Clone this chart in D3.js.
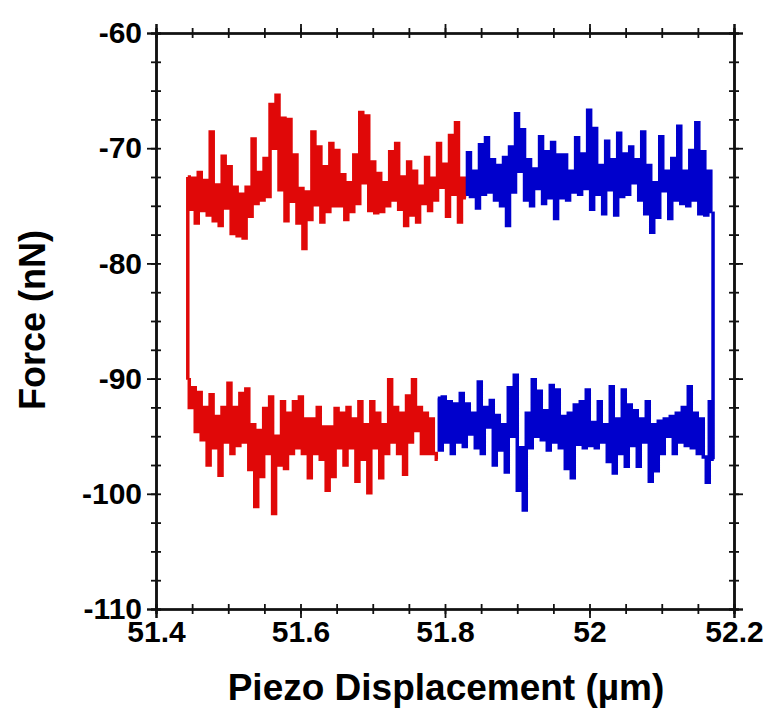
<!DOCTYPE html>
<html>
<head>
<meta charset="utf-8">
<script src="https://cdn.jsdelivr.net/npm/d3@7"></script>
<style>
  body { margin: 0; background: #fff; }
  svg { font-family: "Liberation Sans", Arial, sans-serif; font-weight: bold; }
</style>
</head>
<body>
<svg id="chart" width="768" height="711"></svg>
<script>
// tick labels
const xTicks = [51.4, 51.6, 51.8, 52, 52.2];
const yTicks = [-60, -70, -80, -90, -100, -110];

const redTopRange = [51.444, 51.829];
const redTop = [-72.5, -75.3, -72.6, -76.5, -72.1, -75.4, -72.8, -75.8, -68.6, -76.3,
  -73.2, -76.7, -70.7, -75.2, -71.6, -77.4, -73.4, -77.6, -74.0, -77.8,
  -73.4, -75.9, -69.2, -74.8, -72.1, -74.5, -70.9, -74.2, -66.2, -70.0,
  -65.4, -73.6, -67.4, -76.3, -67.5, -74.6, -70.6, -76.5, -73.5, -78.7,
  -73.8, -76.2, -68.6, -74.9, -69.9, -76.4, -71.6, -75.5, -69.6, -75.0,
  -70.2, -75.0, -72.3, -76.2, -73.0, -75.5, -70.6, -74.8, -66.9, -73.0,
  -67.2, -75.4, -71.2, -75.6, -72.2, -75.5, -73.0, -75.0, -70.3, -74.5,
  -69.6, -75.3, -72.5, -76.7, -71.2, -75.8, -72.0, -76.4, -73.3, -74.8,
  -70.8, -75.4, -72.6, -74.5, -69.6, -73.4, -71.4, -75.9, -68.9, -74.0,
  -67.8, -76.4, -72.6, -74.3];

const blueTopRange = [51.829, 52.170];
const blueTop = [-74.0, -70.4, -74.2, -72.0, -75.2, -69.7, -74.0, -69.1, -73.8, -71.0,
  -74.5, -71.5, -75.0, -70.8, -76.7, -69.9, -73.8, -67.0, -72.0, -68.4,
  -74.5, -71.0, -75.0, -71.8, -73.5, -69.0, -74.8, -70.3, -74.3, -69.5,
  -76.1, -70.6, -74.3, -70.6, -74.5, -72.0, -73.8, -69.1, -74.0, -70.5,
  -73.5, -66.7, -75.3, -68.3, -74.0, -71.5, -75.7, -69.4, -73.6, -71.0,
  -75.8, -68.7, -74.2, -70.5, -74.0, -69.9, -73.0, -71.0, -74.5, -68.6,
  -75.7, -71.5, -77.3, -73.0, -76.0, -69.0, -73.7, -72.0, -76.1, -70.9,
  -74.5, -68.1, -74.8, -72.0, -75.0, -70.2, -74.5, -67.8, -75.7, -70.3,
  -75.8, -72.0, -75.5];

const blueBottomRange = [51.790, 52.172];
const blueBottom = [-91.7, -96.2, -91.6, -95.5, -92.0, -96.5, -92.2, -95.5, -91.3, -95.9,
  -92.2, -94.8, -93.0, -96.0, -90.3, -96.5, -92.5, -94.2, -91.9, -97.5,
  -93.2, -96.2, -94.0, -98.1, -90.8, -95.0, -89.7, -99.7, -96.0, -101.4,
  -93.0, -96.0, -90.1, -95.0, -91.1, -95.3, -92.8, -96.2, -90.6, -95.5,
  -91.0, -96.0, -93.3, -97.8, -93.0, -98.6, -92.3, -95.7, -92.0, -96.0,
  -91.0, -95.8, -93.8, -96.0, -92.0, -95.5, -94.0, -97.2, -90.7, -98.2,
  -93.5, -96.5, -91.0, -97.6, -92.3, -95.8, -92.8, -97.6, -93.5, -95.5,
  -92.0, -98.9, -94.0, -98.0, -93.7, -96.5, -93.5, -95.0, -93.3, -96.5,
  -93.0, -95.5, -92.5, -95.8, -90.7, -96.0, -93.0, -96.5, -93.5, -96.8,
  -99.0, -92.0, -97.0];

const redBottomRange = [51.444, 51.790];
const redBottom = [-90.1, -92.5, -90.8, -94.6, -91.2, -95.3, -92.5, -97.5, -91.4, -96.0,
  -93.3, -98.4, -92.5, -95.5, -90.4, -96.5, -92.5, -95.8, -91.3, -95.5,
  -90.9, -97.9, -94.0, -101.1, -94.5, -98.5, -92.6, -96.5, -91.6, -101.7,
  -95.0, -97.5, -92.0, -97.8, -93.0, -96.5, -92.0, -96.0, -91.6, -96.5,
  -93.5, -98.6, -93.5, -96.5, -92.5, -97.0, -94.2, -99.7, -94.2, -98.5,
  -92.6, -96.0, -93.0, -97.5, -92.5, -96.0, -93.5, -98.9, -92.0, -97.0,
  -94.0, -99.9, -92.0, -96.0, -93.0, -98.6, -94.0, -96.5, -90.1, -95.5,
  -92.5, -96.5, -93.0, -98.3, -91.5, -95.5, -90.1, -94.5, -92.5, -96.5,
  -93.0, -96.5, -93.5, -96.5, -97.0];

// switching edges at the turn-around points
const leftEdgeX = 51.444;
const leftEdge = [-90.1, -72.5];
const rightEdgeX = 52.171;
const rightEdge = [-75.5, -86.0, -97.0];

const svg = d3.select("#chart");

const x = d3.scaleLinear().domain([51.4, 52.2]).range([156, 734]);
const y = d3.scaleLinear().domain([-110, -60]).range([609, 33]);

const minorX = d3.range(51.4, 52.2001, 0.05).map(v => +v.toFixed(2));
const minorY = d3.range(-110, -59.999, 2.5).map(v => +v.toFixed(1));

const spread = (vals, range) => vals.map((v, i) => [
  range[0] + (range[1] - range[0]) * i / (vals.length - 1), v
]);

const line = d3.line()
  .x(d => x(d[0]))
  .y(d => y(d[1]))
  .curve(d3.curveStep);

const traces = [
  { pts: spread(redBottom, redBottomRange), color: "#e00808" },
  { pts: leftEdge.map(v => [leftEdgeX, v]), color: "#e00808" },
  { pts: spread(redTop, redTopRange), color: "#e00808" },
  { pts: spread(blueTop, blueTopRange), color: "#0000cc" },
  { pts: rightEdge.map(v => [rightEdgeX, v]), color: "#0000cc" },
  { pts: spread(blueBottom, blueBottomRange), color: "#0000cc" }
];

svg.append("g")
  .selectAll("path")
  .data(traces)
  .enter()
  .append("path")
  .attr("d", d => line(d.pts))
  .attr("fill", "none")
  .attr("stroke", d => d.color)
  .attr("stroke-width", 3.5)
  .attr("stroke-linejoin", "miter");

// axes: majors point outward, minors cross the frame
const fmt = d => String(d);
const tickLen = 9, minorLen = 5;

const axes = [
  { make: d3.axisBottom, sc: x, pos: "translate(0,609)", major: xTicks, minor: minorX, labels: true, pad: 3 },
  { make: d3.axisTop, sc: x, pos: "translate(0,33)", major: xTicks, minor: minorX, labels: false, pad: 3 },
  { make: d3.axisLeft, sc: y, pos: "translate(156,0)", major: yTicks, minor: minorY, labels: true, pad: 5 },
  { make: d3.axisRight, sc: y, pos: "translate(734,0)", major: yTicks, minor: minorY, labels: false, pad: 5 }
];

axes.forEach(a => {
  const g = svg.append("g").attr("transform", a.pos);
  [minorLen, -minorLen].forEach(s => {
    g.append("g").call(a.make(a.sc).tickValues(a.minor).tickSize(s).tickFormat(""));
  });
  const major = g.append("g").call(
    a.make(a.sc).tickValues(a.major).tickSize(tickLen).tickPadding(a.pad)
      .tickFormat(a.labels ? fmt : "")
  );
  g.selectAll("path.domain").attr("stroke", "#111").attr("stroke-width", 2.2);
  g.selectAll(".tick line").attr("stroke", "#111").attr("stroke-width", 1.8);
  major.selectAll(".tick text")
    .attr("fill", "#000")
    .style("font-size", "30px")
    .style("font-weight", "bold");
});

svg.append("text")
  .attr("x", 446)
  .attr("y", 700)
  .attr("text-anchor", "middle")
  .style("font-size", "37px")
  .text("Piezo Displacement (µm)");

svg.append("text")
  .attr("transform", "translate(45,320) rotate(-90)")
  .attr("text-anchor", "middle")
  .style("font-size", "36px")
  .text("Force (nN)");
</script>
</body>
</html>
